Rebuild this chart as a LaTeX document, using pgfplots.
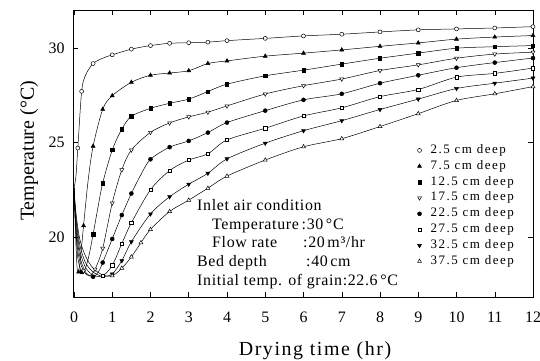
\documentclass[border=0pt]{standalone}
\usepackage{pgfplots}
\pgfplotsset{compat=1.18}
\usepackage{fontspec}
\setmainfont{Liberation Serif}
\newfontfamily\insetfont[LetterSpace=4]{Liberation Serif}
\newfontfamily\labfont[LetterSpace=8]{Liberation Serif}
\newfontfamily\legfont[LetterSpace=12]{Liberation Serif}

\begin{document}
\begin{tikzpicture}
\path[use as bounding box] (0bp,0bp) rectangle (540bp,361bp);
\begin{axis}[
  at={(73bp,64bp)}, anchor=south west,
  scale only axis, width=460bp, height=287bp,
  xmin=-0.026, xmax=12, ymin=16.83, ymax=32,
  xtick={0,1,...,12}, ytick={20,25,30},
  tick align=inside, major tick length=5bp,
  tick style={black, line width=0.5pt},
  axis line style={black, line width=0.6pt},
  /pgf/number format/assume math mode=true,
  ticklabel style={font=\fontsize{16}{16}\selectfont},
  xticklabel style={anchor=base, yshift=-25bp},
  yticklabel style={anchor=east, xshift=-5bp},
  every axis plot/.append style={black, line width=0.5pt},
  legend cell align=left,
  legend style={at={(0.749,0.53)}, anchor=north west, draw=none, fill=none,
    inner sep=0pt, outer sep=0pt,
    font=\legfont\fontsize{13}{13}\selectfont, row sep=4.85bp,
    nodes={inner sep=0pt, text height=8.5bp, text depth=2.5bp},
    /tikz/every odd column/.append style={column sep=9bp}},
]
% ---------- 2.5 cm ----------
\addplot[smooth, tension=0.5, forget plot] coordinates {(0,22.6)(0.05,23.2)(0.1,24.7)(0.2,27.7)(0.3,28.55)(0.5,29.17)(0.75,29.45)(1,29.63)(1.5,29.93)(2,30.12)(2.5,30.24)(3,30.27)(3.5,30.3)(4,30.38)(5,30.5)(6,30.63)(7,30.72)(8,30.84)(9,30.95)(10,31.0)(11,31.05)(12,31.12)};
\addplot[only marks, mark=*, mark size=2pt, mark options={fill=white, line width=0.5pt}] coordinates {(0.1,24.7)(0.2,27.7)(0.5,29.17)(1,29.63)(1.5,29.93)(2,30.12)(2.5,30.24)(3,30.27)(3.5,30.3)(4,30.38)(5,30.5)(6,30.63)(7,30.72)(8,30.84)(9,30.95)(10,31.0)(11,31.05)(12,31.12)};
\addlegendentry{2.5 cm deep}
% ---------- 7.5 cm ----------
\addplot[smooth, tension=0.5, forget plot] coordinates {(0,22.6)(0.04,20.2)(0.08,18.4)(0.12,18.15)(0.18,19.1)(0.25,20.6)(0.37,23.0)(0.5,24.8)(0.75,26.75)(1,27.47)(1.5,28.18)(2,28.55)(2.5,28.67)(3,28.79)(3.5,29.17)(4,29.31)(5,29.56)(6,29.72)(7,29.89)(8,30.08)(9,30.26)(10,30.46)(11,30.57)(12,30.65)};
\addplot[only marks, mark=triangle*, mark size=2.3pt, mark options={fill=black}] coordinates {(0.12,18.15)(0.25,20.6)(0.5,24.8)(0.75,26.75)(1,27.47)(1.5,28.18)(2,28.55)(2.5,28.67)(3,28.79)(3.5,29.17)(4,29.31)(5,29.56)(6,29.72)(7,29.89)(8,30.08)(9,30.26)(10,30.46)(11,30.57)(12,30.65)};
\addlegendentry{7.5 cm deep}
% ---------- 12.5 cm ----------
\addplot[smooth, tension=0.5, forget plot] coordinates {(0,22.6)(0.05,20.3)(0.1,18.9)(0.2,18.15)(0.3,18.35)(0.4,19.1)(0.5,20.15)(0.63,21.6)(0.75,22.85)(1,24.6)(1.25,25.7)(1.5,26.38)(2,26.8)(2.5,27.07)(3,27.29)(3.5,27.69)(4,28.08)(5,28.52)(6,28.82)(7,29.14)(8,29.45)(9,29.72)(10,29.98)(11,30.06)(12,30.12)};
\addplot[only marks, mark=square*, mark size=1.7pt, mark options={fill=black}] coordinates {(0.2,18.15)(0.5,20.15)(0.75,22.85)(1,24.6)(1.25,25.7)(1.5,26.38)(2,26.8)(2.5,27.07)(3,27.29)(3.5,27.69)(4,28.08)(5,28.52)(6,28.82)(7,29.14)(8,29.45)(9,29.72)(10,29.98)(11,30.06)(12,30.12)};
\addlegendentry{12.5 cm deep}
% ---------- 17.5 cm ----------
\addplot[smooth, tension=0.5, forget plot] coordinates {(0,22.6)(0.05,20.4)(0.12,19.0)(0.25,18.2)(0.4,17.95)(0.55,18.3)(0.75,19.4)(1,21.8)(1.25,23.55)(1.5,24.6)(2,25.53)(2.5,26.03)(3,26.35)(3.5,26.6)(4,26.93)(5,27.56)(6,28.0)(7,28.35)(8,28.8)(9,29.1)(10,29.45)(11,29.67)(12,29.77)};
\addplot[only marks, mark=triangle*, mark size=2.3pt, mark options={rotate=180, fill=white, line width=0.5pt}] coordinates {(0.25,18.2)(0.55,18.3)(0.75,19.4)(1,21.8)(1.25,23.55)(1.5,24.6)(2,25.53)(2.5,26.03)(3,26.35)(3.5,26.6)(4,26.93)(5,27.56)(6,28.0)(7,28.35)(8,28.8)(9,29.1)(10,29.45)(11,29.67)(12,29.77)};
\addlegendentry{17.5 cm deep}
% ---------- 22.5 cm ----------
\addplot[smooth, tension=0.5, forget plot] coordinates {(0,22.6)(0.05,20.6)(0.15,19.0)(0.3,18.15)(0.5,17.9)(0.65,18.2)(0.75,18.65)(1,19.9)(1.25,21.16)(1.5,22.3)(1.75,23.3)(2,24.11)(2.5,24.75)(3,25.08)(3.5,25.52)(4,26.05)(5,26.68)(6,27.25)(7,27.57)(8,28.13)(9,28.55)(10,28.95)(11,29.22)(12,29.46)};
\addplot[only marks, mark=*, mark size=2pt, mark options={fill=black}] coordinates {(0.5,17.9)(0.75,18.65)(1,19.9)(1.25,21.16)(1.5,22.3)(2,24.11)(2.5,24.75)(3,25.08)(3.5,25.52)(4,26.05)(5,26.68)(6,27.25)(7,27.57)(8,28.13)(9,28.55)(10,28.95)(11,29.22)(12,29.46)};
\addlegendentry{22.5 cm deep}
% ---------- 27.5 cm ----------
\addplot[smooth, tension=0.5, forget plot] coordinates {(0,22.6)(0.05,20.9)(0.15,19.3)(0.3,18.4)(0.5,17.98)(0.75,17.95)(1,18.5)(1.25,19.65)(1.5,20.75)(2,22.5)(2.5,23.51)(3,24.07)(3.5,24.4)(4,25.13)(5,25.75)(6,26.4)(7,26.83)(8,27.42)(9,27.8)(10,28.45)(11,28.65)(12,28.93)};
\addplot[only marks, mark=square*, mark size=1.7pt, mark options={fill=white, line width=0.5pt}] coordinates {(0.75,17.95)(1,18.5)(1.25,19.65)(1.5,20.75)(2,22.5)(2.5,23.51)(3,24.07)(3.5,24.4)(4,25.13)(5,25.75)(6,26.4)(7,26.83)(8,27.42)(9,27.8)(10,28.45)(11,28.65)(12,28.93)};
\addlegendentry{27.5 cm deep}
% ---------- 32.5 cm ----------
\addplot[smooth, tension=0.5, forget plot] coordinates {(0,22.6)(0.05,21.1)(0.15,19.6)(0.3,18.65)(0.5,18.15)(0.75,17.92)(1,18.05)(1.25,18.75)(1.5,19.75)(2,21.22)(2.5,22.13)(3,22.79)(3.5,23.37)(4,24.13)(5,24.96)(6,25.62)(7,26.15)(8,26.74)(9,27.29)(10,27.85)(11,28.13)(12,28.4)};
\addplot[only marks, mark=triangle*, mark size=2.3pt, mark options={rotate=180, fill=black}] coordinates {(1,18.05)(1.25,18.75)(1.5,19.75)(2,21.22)(2.5,22.13)(3,22.79)(3.5,23.37)(4,24.13)(5,24.96)(6,25.62)(7,26.15)(8,26.74)(9,27.29)(10,27.85)(11,28.13)(12,28.4)};
\addlegendentry{32.5 cm deep}
% ---------- 37.5 cm ----------
\addplot[smooth, tension=0.5, forget plot] coordinates {(0,22.6)(0.05,21.3)(0.15,19.9)(0.3,19.0)(0.5,18.35)(0.75,18.0)(1,17.95)(1.25,18.35)(1.5,18.95)(1.75,19.7)(2,20.4)(2.5,21.35)(3,21.95)(3.5,22.58)(4,23.22)(5,24.07)(6,24.77)(7,25.2)(8,25.84)(9,26.52)(10,27.22)(11,27.57)(12,27.95)};
\addplot[only marks, mark=triangle*, mark size=2.3pt, mark options={fill=white, line width=0.5pt}] coordinates {(1,17.95)(1.25,18.35)(1.5,18.95)(1.75,19.7)(2,20.4)(2.5,21.35)(3,21.95)(3.5,22.58)(4,23.22)(5,24.07)(6,24.77)(7,25.2)(8,25.84)(9,26.52)(10,27.22)(11,27.57)(12,27.95)};
\addlegendentry{37.5 cm deep}
\end{axis}
% inset text
\begin{scope}[every node/.style={anchor=base west, inner sep=0pt, font=\insetfont\fontsize{16}{16}\selectfont}]
\node at (197bp,150.3bp) {Inlet air condition};
\node at (212bp,131bp) {Temperature};
\node at (301.5bp,131bp) {:30\,°C};
\node at (212bp,113bp) {Flow rate};
\node at (303bp,113bp) {:20\,m³/hr};
\node at (197bp,94bp) {Bed depth};
\node at (306bp,94bp) {:40\,cm};
\node at (197bp,75bp) {Initial temp. of grain:22.6\,°C};
\end{scope}
% axis labels
\node[anchor=base, inner sep=0pt, font=\labfont\fontsize{20}{20}\selectfont] at (315bp,6bp) {Drying time (hr)};
\node[rotate=90, inner sep=0pt, font=\fontsize{20}{20}\selectfont] at (29bp,210bp) {Temperature (°C)};
\end{tikzpicture}
\end{document}
